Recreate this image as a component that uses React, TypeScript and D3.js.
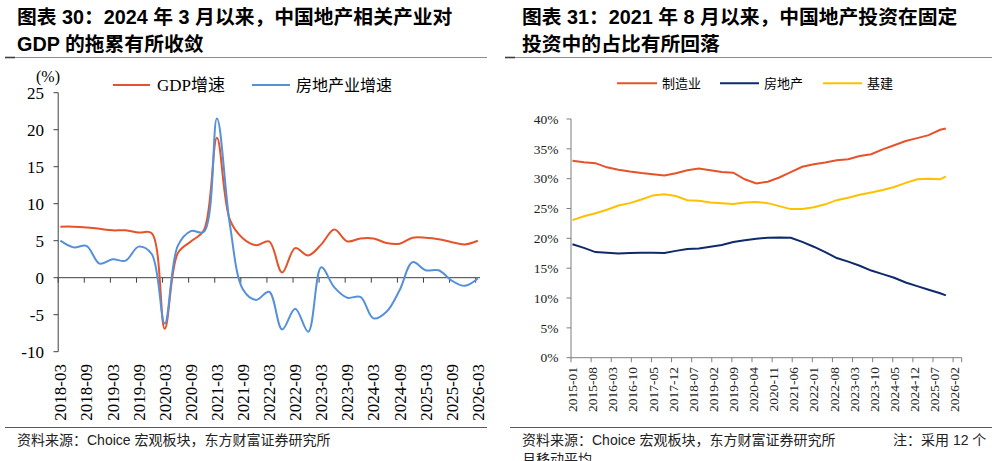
import React from "react";
import * as d3 from "d3";

// ---------- Left chart data (quarterly, %) ----------
const leftQuarters = [
  "2018-03","2018-06","2018-09","2018-12","2019-03","2019-06","2019-09","2019-12",
  "2020-03","2020-06","2020-09","2020-12","2021-03","2021-06","2021-09","2021-12",
  "2022-03","2022-06","2022-09","2022-12","2023-03","2023-06","2023-09","2023-12",
  "2024-03","2024-06","2024-09","2024-12","2025-03","2025-06","2025-09","2025-12","2026-03",
];
const gdpGrowth = [
  6.9, 6.9, 6.8, 6.6, 6.4, 6.4, 6.1, 6.0,
  -6.9, 3.3, 4.9, 6.4, 18.9, 7.8, 5.3, 4.4,
  4.9, 0.7, 4.0, 3.0, 4.5, 6.5, 4.9, 5.3,
  5.3, 4.7, 4.6, 5.4, 5.4, 5.2, 4.8, 4.5, 5.0,
];
const realEstateGrowth = [
  5.0, 4.1, 4.3, 1.9, 2.5, 2.3, 4.2, 3.2,
  -6.2, 4.3, 6.3, 6.2, 21.5, 7.1, -1.6, -3.0,
  -1.9, -7.0, -4.2, -7.3, 1.4, -1.3, -2.7, -2.6,
  -5.5, -4.6, -1.7, 2.1, 1.0, 1.0, -0.4, -1.1, -0.1,
];
const leftTickLabels = [
  "2018-03","2018-09","2019-03","2019-09","2020-03","2020-09","2021-03","2021-09",
  "2022-03","2022-09","2023-03","2023-09","2024-03","2024-09","2025-03","2025-09","2026-03",
];
const leftYTicks = [-10, -5, 0, 5, 10, 15, 20, 25];

// ---------- Right chart data (12m moving average share, %) ----------
const rightMonths = [
  "2015-01","2015-05","2015-09","2016-01","2016-05","2016-09","2017-01","2017-05",
  "2017-09","2018-01","2018-05","2018-09","2019-01","2019-05","2019-09","2020-01",
  "2020-05","2020-09","2021-01","2021-05","2021-09","2022-01","2022-05","2022-09",
  "2023-01","2023-05","2023-09","2024-01","2024-05","2024-09","2025-01","2025-05",
  "2025-09","2025-11",
];
const manufacturingShare = [
  33.0, 32.75, 32.6, 31.9, 31.5, 31.2, 30.95, 30.75,
  30.55, 30.9, 31.4, 31.7, 31.4, 31.1, 31.0, 29.9,
  29.2, 29.5, 30.2, 31.1, 32.0, 32.4, 32.7, 33.1,
  33.25, 33.8, 34.1, 34.9, 35.6, 36.3, 36.8, 37.3,
  38.2, 38.4,
];
const realEstateShare = [
  19.0, 18.4, 17.7, 17.6, 17.45, 17.55, 17.6, 17.6,
  17.55, 17.9, 18.2, 18.3, 18.6, 18.9, 19.4, 19.7,
  19.95, 20.1, 20.15, 20.1, 19.4, 18.6, 17.7, 16.7,
  16.1, 15.4, 14.6, 14.0, 13.4, 12.6, 12.0, 11.4,
  10.8, 10.45,
];
const infrastructureShare = [
  23.05, 23.7, 24.2, 24.8, 25.5, 25.9, 26.5, 27.2,
  27.4, 27.1, 26.4, 26.3, 26.0, 25.9, 25.75, 26.0,
  26.1, 25.9, 25.4, 24.9, 24.9, 25.2, 25.7, 26.4,
  26.8, 27.3, 27.7, 28.1, 28.6, 29.3, 29.9, 30.0,
  29.9, 30.4,
];
const rightTickLabels = [
  "2015-01","2015-08","2016-03","2016-10","2017-05","2017-12","2018-07","2019-02",
  "2019-09","2020-04","2020-11","2021-06","2022-01","2022-08","2023-03","2023-10",
  "2024-05","2024-12","2025-07","2026-02",
];
const rightYTicks = [0, 5, 10, 15, 20, 25, 30, 35, 40];

const SERIF = "'Liberation Serif', 'Times New Roman', 'Noto Sans CJK SC', serif";
const SANS = "'Liberation Sans', Arial, 'Noto Sans CJK SC', sans-serif";
const CJK = "'Liberation Serif', 'Noto Sans CJK SC', serif";

const ORANGE = "#E5532A";
const BLUE = "#5590DA";
const NAVY = "#0E2A6B";
const YELLOW = "#FFC000";

function monthsSince(label: string, y0: number, m0: number) {
  const [y, m] = label.split("-").map(Number);
  return (y - y0) * 12 + (m - m0);
}

export default function App() {
  // Left chart scales
  const xL = d3.scaleLinear().domain([0, 97]).range([58.2, 480]);
  const yL = d3.scaleLinear().domain([-10, 25]).range([351.7, 92.7]);
  const lxOf = (lab: string) => xL(monthsSince(lab, 2018, 3) + 0.5);
  const leftLine = d3
    .line<[number, number]>()
    .x((d) => d[0])
    .y((d) => d[1])
    .curve(d3.curveCatmullRom.alpha(0.5));
  const gdpPath = leftLine(leftQuarters.map((q, i) => [lxOf(q), yL(gdpGrowth[i])]));
  const rePath = leftLine(leftQuarters.map((q, i) => [lxOf(q), yL(realEstateGrowth[i])]));
  const leftTickXs = d3.range(0, 17).map((k) => xL(k * 6));

  // Right chart scales
  const xR = d3.scaleLinear().domain([0, 136]).range([571, 961.7]);
  const yR = d3.scaleLinear().domain([0, 40]).range([357.7, 119]);
  const rxOf = (lab: string) => xR(monthsSince(lab, 2015, 1) + 0.5);
  const rightLine = d3
    .line<[number, number]>()
    .x((d) => d[0])
    .y((d) => d[1])
    .curve(d3.curveLinear);
  const mk = (vals: number[]) => rightLine(rightMonths.map((m, i) => [rxOf(m), yR(vals[i])]));
  const rightTickXs = d3.range(0, 20).map((k) => xR(k * 7)).concat([xR(136)]);

  return (
    <svg width={997} height={461} style={{ position: "absolute", left: 0, top: 0, background: "#fff" }}>
      <rect x={0} y={0} width={997} height={461} fill="#fff" />
      {/* Titles */}
      <g fontFamily={SANS} fontWeight="bold" fontSize={19.8} fill="#000">
        <text x={17} y={24}>图表 30：2024 年 3 月以来，中国地产相关产业对</text>
        <text x={17} y={51}>GDP 的拖累有所收敛</text>
        <text x={522} y={24}>图表 31：2021 年 8 月以来，中国地产投资在固定</text>
        <text x={522} y={51}>投资中的占比有所回落</text>
      </g>
      <line x1={5} x2={487} y1={57.5} y2={57.5} stroke="#8c8c8c" strokeWidth={1.2} />
      <line x1={5} x2={15} y1={57.5} y2={57.5} stroke="#404040" strokeWidth={1.6} />
      <line x1={505} x2={992} y1={57.5} y2={57.5} stroke="#8c8c8c" strokeWidth={1.2} />
      <line x1={505} x2={515} y1={57.5} y2={57.5} stroke="#404040" strokeWidth={1.6} />

      {/* ===== Left chart ===== */}
      <text x={36} y={82} fontFamily={SERIF} fontSize={16} fill="#000">(%)</text>
      {/* legend */}
      <line x1={113} x2={150} y1={85} y2={85} stroke={ORANGE} strokeWidth={2} />
      <text x={157} y={91} fontFamily={CJK} fontSize={17} fill="#000">GDP增速</text>
      <line x1={252} x2={290} y1={85} y2={85} stroke={BLUE} strokeWidth={2} />
      <text x={296} y={91} fontFamily={CJK} fontSize={16} fill="#000">房地产业增速</text>
      {/* y axis */}
      <line x1={58.2} x2={58.2} y1={yL(25)} y2={yL(-10)} stroke="#404040" strokeWidth={1} />
      {leftYTicks.map((t) => (
        <g key={t}>
          <line x1={53.5} x2={58.2} y1={yL(t)} y2={yL(t)} stroke="#404040" strokeWidth={1} />
          <text x={44} y={yL(t)} dy="0.35em" textAnchor="end" fontFamily={SERIF} fontSize={17} fill="#000">
            {t}
          </text>
        </g>
      ))}
      {/* x axis at zero */}
      <line x1={58.2} x2={480} y1={yL(0)} y2={yL(0)} stroke="#404040" strokeWidth={1} />
      {leftTickXs.map((x, i) => (
        <line key={i} x1={x} x2={x} y1={yL(0)} y2={yL(0) + 5} stroke="#404040" strokeWidth={1} />
      ))}
      {leftTickLabels.map((lab) => {
        const x = lxOf(lab);
        return (
          <text
            key={lab}
            transform={`translate(${x},${364}) rotate(-90)`}
            dy="0.35em"
            textAnchor="end"
            fontFamily={SERIF}
            fontSize={17}
            fill="#000"
          >
            {lab}
          </text>
        );
      })}
      <path d={gdpPath || ""} fill="none" stroke={ORANGE} strokeWidth={2} />
      <path d={rePath || ""} fill="none" stroke={BLUE} strokeWidth={2} />

      {/* ===== Right chart ===== */}
      <line x1={617} x2={657} y1={83.3} y2={83.3} stroke={ORANGE} strokeWidth={2} />
      <text x={662} y={88} fontFamily={CJK} fontSize={13} fill="#000">制造业</text>
      <line x1={720} x2={759} y1={83.3} y2={83.3} stroke={NAVY} strokeWidth={2} />
      <text x={764} y={88} fontFamily={CJK} fontSize={13} fill="#000">房地产</text>
      <line x1={823} x2={862} y1={83.3} y2={83.3} stroke={YELLOW} strokeWidth={2} />
      <text x={867} y={88} fontFamily={CJK} fontSize={13} fill="#000">基建</text>

      <line x1={571} x2={571} y1={yR(40)} y2={yR(0)} stroke="#7f7f7f" strokeWidth={1} />
      {rightYTicks.map((t) => (
        <g key={t}>
          <line x1={566.5} x2={571} y1={yR(t)} y2={yR(t)} stroke="#7f7f7f" strokeWidth={1} />
          <text x={558.5} y={yR(t)} dy="0.35em" textAnchor="end" fontFamily={SERIF} fontSize={13.5} fill="#222">
            {t}%
          </text>
        </g>
      ))}
      <line x1={571} x2={961.7} y1={yR(0)} y2={yR(0)} stroke="#7f7f7f" strokeWidth={1} />
      {rightTickXs.map((x, i) => (
        <line key={i} x1={x} x2={x} y1={yR(0)} y2={yR(0) + 4.5} stroke="#7f7f7f" strokeWidth={1} />
      ))}
      {rightTickLabels.map((lab) => {
        const x = rxOf(lab);
        return (
          <text
            key={lab}
            transform={`translate(${x},${367}) rotate(-90)`}
            dy="0.35em"
            textAnchor="end"
            fontFamily={SERIF}
            fontSize={13.5}
            fill="#222"
          >
            {lab}
          </text>
        );
      })}
      <path d={mk(manufacturingShare) || ""} fill="none" stroke={ORANGE} strokeWidth={2} />
      <path d={mk(infrastructureShare) || ""} fill="none" stroke={YELLOW} strokeWidth={2} />
      <path d={mk(realEstateShare) || ""} fill="none" stroke={NAVY} strokeWidth={2} />

      {/* Footers */}
      <line x1={5} x2={487} y1={427.5} y2={427.5} stroke="#595959" strokeWidth={1} />
      <line x1={510} x2={992} y1={427.5} y2={427.5} stroke="#595959" strokeWidth={1} />
      <g fontFamily={SANS} fontSize={14} fill="#222">
        <text x={17} y={445}>资料来源：Choice 宏观板块，东方财富证券研究所</text>
        <text x={522} y={445}>资料来源：Choice 宏观板块，东方财富证券研究所</text>
        <text x={893} y={445}>注：采用 12 个</text>
        <text x={522} y={464}>月移动平均</text>
      </g>
    </svg>
  );
}
